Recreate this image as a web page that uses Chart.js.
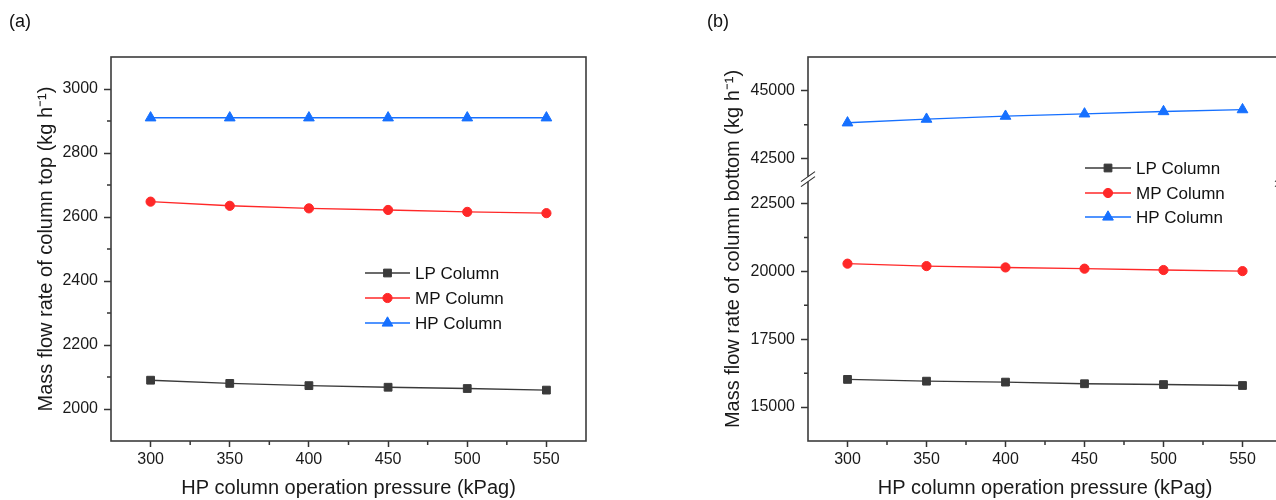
<!DOCTYPE html>
<html>
<head>
<meta charset="utf-8">
<script src="https://cdn.jsdelivr.net/npm/chart.js@4.4.0/dist/chart.umd.min.js"></script>
<style>
  html, body { margin: 0; padding: 0; width: 1276px; height: 500px; overflow: hidden; background: #fff; }
  .panel { position: absolute; top: 0; }
  .tag { position: absolute; top: 11px; font: 18px "Liberation Sans", Arial, sans-serif; color: #111; }
</style>
</head>
<body>
<div class="panel" style="left:0px"><canvas id="chartA" width="640" height="500"></canvas></div>
<div class="panel" style="left:640px"><canvas id="chartB" width="660" height="500"></canvas></div>
<div class="tag" style="left:9px">(a)</div>
<div class="tag" style="left:707px">(b)</div>
<script>
const FONT = '"Liberation Sans", Arial, sans-serif';
Chart.defaults.font.family = FONT;
Chart.defaults.color = '#1a1a1a';

const pressure = [300, 350, 400, 450, 500, 550];
const seriesNames = ['LP Column', 'MP Column', 'HP Column'];

// (a) mass flow at column top
const topLP = [2090, 2080, 2073, 2068, 2064, 2059];
const topMP = [2648, 2635, 2627, 2622, 2616, 2612];
const topHP = [2910, 2910, 2910, 2910, 2910, 2910];

// (b) mass flow at column bottom
const botLP = [16020, 15955, 15920, 15860, 15830, 15795];
const botMP = [20285, 20195, 20145, 20100, 20050, 20010];
const botHP = [43825, 43960, 44070, 44155, 44240, 44310];

// tick values
const xTicks = [300, 350, 400, 450, 500, 550];
const xMinor = [325, 375, 425, 475, 525];
const topYTicks = [2000, 2200, 2400, 2600, 2800, 3000];
const topYMinor = [2100, 2300, 2500, 2700, 2900];
const botLowTicks = [15000, 17500, 20000, 22500];
const botLowMinor = [16250, 18750, 21250];
const botUpTicks = [42500, 45000];
const botUpMinor = [43750];

const colors = ['#3a3a3a', '#ff2828', '#1670ff'];
const styles = ['rect', 'circle', 'triangle'];
const radii = [5.5, 4.6, 6.2];

function pts(ys) { return pressure.map((x, i) => ({ x: x, y: ys[i] })); }
function ds(i, ys, axis) {
  return {
    label: seriesNames[i], data: pts(ys), yAxisID: axis,
    borderColor: colors[i], backgroundColor: colors[i], borderWidth: 1.4,
    pointStyle: styles[i], pointRadius: radii[i], pointHoverRadius: radii[i],
    pointBorderWidth: 1, tension: 0
  };
}
function setTicks(arr) { return s => { s.ticks = arr.map(v => ({ value: v })); }; }
function fixW(w) { return s => { s.width = w; }; }
function fixH(h) { return s => { s.height = h; }; }

const tickFont = { size: 16 };
const titleFont = { size: 20 };
const gridOpts = { display: true, drawOnChartArea: false, drawTicks: true, tickLength: 7, tickColor: '#333', tickWidth: 1.5 };

function xScale() {
  return {
    type: 'linear', min: 275, max: 575,
    afterBuildTicks: setTicks(xTicks), afterFit: fixH(59),
    ticks: { font: tickFont, padding: 3, autoSkip: false, maxRotation: 0, callback: v => String(v) },
    grid: Object.assign({}, gridOpts, { tickLength: 6 }), border: { display: false },
    title: { display: true, text: 'HP column operation pressure (kPag)', font: titleFont, padding: { top: 0, bottom: 0 } }
  };
}
function yScale(min, max, ticks, extra) {
  return Object.assign({
    type: 'linear', min: min, max: max,
    afterBuildTicks: setTicks(ticks),
    ticks: { font: tickFont, padding: 6, autoSkip: false, callback: v => String(v) },
    grid: gridOpts, border: { display: false }
  }, extra);
}

// frame, minor ticks, axis break and in-plot legend
function makeFrame(cfg) {
  return {
    id: 'frame',
    afterDraw(chart) {
      const { ctx, chartArea: a, scales } = chart;
      ctx.save();
      ctx.strokeStyle = '#333';
      ctx.lineWidth = 1.5;
      ctx.beginPath();
      cfg.minor.forEach(([id, vals]) => {
        const s = scales[id];
        vals.forEach(v => {
          const p = s.getPixelForValue(v);
          if (s.isHorizontal()) { ctx.moveTo(p, a.bottom); ctx.lineTo(p, a.bottom + 4); }
          else { ctx.moveTo(a.left, p); ctx.lineTo(a.left - 4, p); }
        });
      });
      ctx.stroke();

      ctx.strokeStyle = '#3c3c3c';
      ctx.lineWidth = 1.6;
      ctx.strokeRect(a.left, a.top, a.right - a.left, a.bottom - a.top);

      if (cfg.breakAxis) {
        const yb = scales[cfg.breakAxis].bottom;
        [a.left, a.right].forEach(x => {
          ctx.fillStyle = '#fff';
          ctx.fillRect(x - 2, yb - 2.5, 4, 5);
          ctx.beginPath();
          [-2.5, 2.5].forEach(d => { ctx.moveTo(x - 7, yb + d + 5); ctx.lineTo(x + 7, yb + d - 5); });
          ctx.lineWidth = 1.2;
          ctx.strokeStyle = '#333';
          ctx.stroke();
        });
      }

      const lg = cfg.legend;
      const drawPt = Chart.helpers && Chart.helpers.drawPoint;
      chart.data.datasets.forEach((d, i) => {
        const y = lg.rows[i];
        ctx.strokeStyle = d.borderColor;
        ctx.lineWidth = d.borderWidth;
        ctx.beginPath(); ctx.moveTo(lg.x0, y); ctx.lineTo(lg.x1, y); ctx.stroke();
        ctx.fillStyle = d.backgroundColor;
        ctx.lineWidth = 1;
        const cx = (lg.x0 + lg.x1) / 2;
        if (drawPt) drawPt(ctx, { pointStyle: d.pointStyle, radius: d.pointRadius, rotation: 0, borderWidth: 1 }, cx, y);
        ctx.fillStyle = '#111';
        ctx.font = '17px ' + FONT;
        ctx.textBaseline = 'middle';
        ctx.textAlign = 'left';
        ctx.fillText(d.label, lg.tx, y + 1);
      });
      ctx.restore();
    }
  };
}

new Chart(document.getElementById('chartA'), {
  type: 'line',
  data: { datasets: [ds(0, topLP, 'y'), ds(1, topMP, 'y'), ds(2, topHP, 'y')] },
  options: {
    responsive: false, animation: false, events: [],
    layout: { padding: { top: 57, right: 54, bottom: 0, left: 0 } },
    plugins: { legend: { display: false }, tooltip: { enabled: false } },
    scales: {
      x: xScale(),
      y: yScale(1900, 3100, topYTicks, {
        afterFit: fixW(111),
        title: { display: true, text: 'Mass flow rate of column top (kg h⁻¹)', font: titleFont, padding: { top: 34, bottom: 0 } }
      })
    }
  },
  plugins: [makeFrame({
    minor: [['x', xMinor], ['y', topYMinor]],
    legend: { x0: 365, x1: 410, tx: 415, rows: [273, 298, 323] }
  })]
});

new Chart(document.getElementById('chartB'), {
  type: 'line',
  data: { datasets: [ds(0, botLP, 'yLow'), ds(1, botMP, 'yLow'), ds(2, botHP, 'yUp')] },
  options: {
    responsive: false, animation: false, events: [],
    layout: { padding: { top: 57, right: 18, bottom: 0, left: 0 } },
    plugins: { legend: { display: false }, tooltip: { enabled: false } },
    scales: {
      x: xScale(),
      yLow: yScale(13750, 23400, botLowTicks, { position: 'left', stack: 'b', stackWeight: 9650, weight: 0, afterFit: fixW(68) }),
      yUp: yScale(41750, 46250, botUpTicks, { position: 'left', stack: 'b', stackWeight: 4500, weight: 0.5, afterFit: fixW(68) }),
      yTitle: {
        type: 'linear', position: 'left', min: 0, max: 1, weight: 1, afterFit: fixW(100),
        ticks: { display: false }, grid: { display: false }, border: { display: false },
        title: { display: true, text: 'Mass flow rate of column bottom (kg h⁻¹)', font: titleFont, padding: { top: 81, bottom: 0 } }
      }
    }
  },
  plugins: [makeFrame({
    minor: [['x', xMinor], ['yLow', botLowMinor], ['yUp', botUpMinor]],
    breakAxis: 'yUp',
    legend: { x0: 445, x1: 491, tx: 496, rows: [168, 193, 217] }
  })]
});
</script>
</body>
</html>
